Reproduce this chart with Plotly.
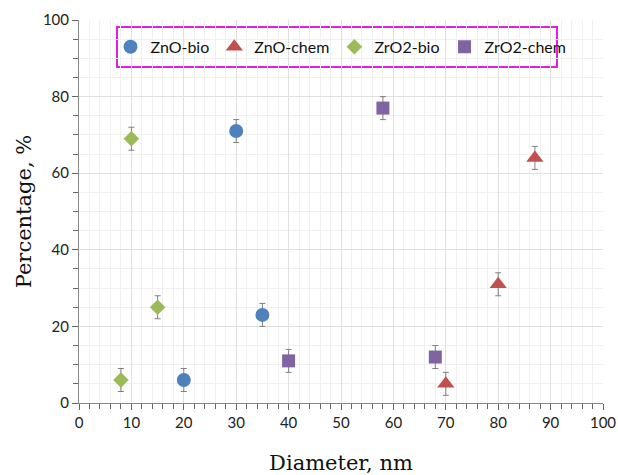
import plotly.graph_objects as go

series_names = ["ZnO-bio", "ZnO-chem", "ZrO2-bio", "ZrO2-chem"]
znobio_x = [20, 30, 35]
znobio_y = [6, 71, 23]
znochem_x = [70, 80, 87]
znochem_y = [5, 31, 64]
zro2bio_x = [8, 10, 15]
zro2bio_y = [6, 69, 25]
zro2chem_x = [40, 58, 68]
zro2chem_y = [11, 77, 12]
err = 3

colors = ["#4F81BD", "#C0504D", "#9BBB59", "#8064A2"]
symbols = ["circle", "triangle-up", "diamond", "square"]
sizes = [14, 15, 12, 13]
xs = [znobio_x, znochem_x, zro2bio_x, zro2chem_x]
ys = [znobio_y, znochem_y, zro2bio_y, zro2chem_y]

fig = go.Figure()
for name, x, y, c, s, sz in zip(series_names, xs, ys, colors, symbols, sizes):
    fig.add_trace(go.Scatter(
        x=x, y=y, mode="markers", name=name,
        marker=dict(color=c, symbol=s, size=sz, line=dict(width=0)),
        error_y=dict(type="constant", value=err, color="#808080", thickness=1, width=3),
    ))

tickfont = dict(family="Lato, Open Sans, sans-serif", size=15, color="#222")
fig.update_layout(
    width=618, height=475,
    margin=dict(l=79, r=15, t=20, b=72, autoexpand=False),
    plot_bgcolor="white", paper_bgcolor="white",
    showlegend=True,
    legend=dict(orientation="h", x=0.5, xanchor="center", y=0.93, yanchor="middle",
                font=dict(family="Lato, Open Sans, sans-serif", size=16, color="#111"),
                bgcolor="rgba(0,0,0,0)", borderwidth=0, itemwidth=30),
    xaxis=dict(range=[0, 100], dtick=10, tick0=0, showgrid=True, gridcolor="#E0E0E0", gridwidth=1,
               minor=dict(dtick=2, showgrid=True, gridcolor="#F0F0F0", ticks="outside", ticklen=5, tickcolor="#666"),
               ticks="outside", ticklen=6, tickcolor="#666", showline=True, linecolor="#888", linewidth=1,
               zeroline=False, tickfont=tickfont, automargin=False,
               title=dict(text="Diameter, nm", font=dict(family="DejaVu Serif, serif", size=21, color="#111"), standoff=26)),
    yaxis=dict(range=[0, 100], dtick=20, tick0=0, showgrid=True, gridcolor="#E0E0E0", gridwidth=1,
               minor=dict(dtick=5, showgrid=True, gridcolor="#F0F0F0", ticks="outside", ticklen=5, tickcolor="#666"),
               ticks="outside", ticklen=6, tickcolor="#666", showline=True, linecolor="#888", linewidth=1,
               zeroline=False, tickfont=tickfont, automargin=False,
               title=dict(text="Percentage, %", font=dict(family="DejaVu Serif, serif", size=21, color="#111"), standoff=5)),
    shapes=[dict(type="rect", xref="paper", yref="paper",
                 x0=(117 - 79) / 524, x1=(557 - 79) / 524,
                 y0=(403 - 67) / 383, y1=(403 - 27) / 383,
                 line=dict(color="#E020E8", width=2), fillcolor="white", layer="below")],
)

fig.write_html("out.html")
